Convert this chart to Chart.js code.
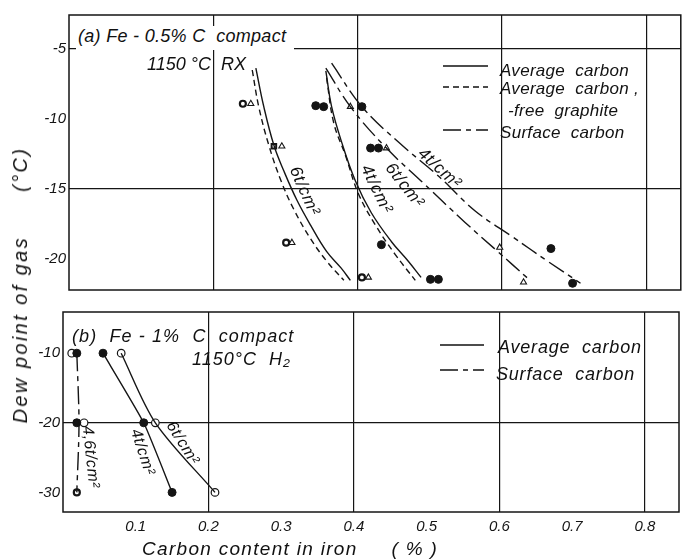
<!DOCTYPE html>
<html><head><meta charset="utf-8">
<script src="https://cdn.jsdelivr.net/npm/chart.js@4"></script>
<style>
html,body{margin:0;padding:0;background:#fff;}
#wrap{position:relative;width:686px;height:559px;overflow:hidden;font-family:"Liberation Sans",Arial,sans-serif;font-style:italic;color:#111;}
canvas{position:absolute;left:0;}
.t{position:absolute;white-space:pre;line-height:1;}
.r{position:absolute;white-space:pre;line-height:1;transform-origin:50% 50%;}
svg{position:absolute;overflow:visible;}
</style></head><body>
<div id="wrap">
<canvas id="cA" width="686" height="302" style="top:0"></canvas>
<canvas id="cB" width="686" height="259" style="top:300px"></canvas>

<div class="t" style="left:76px;top:26px;font-size:18px;letter-spacing:0.3px;background:#fff;padding:1px 8px 5px 2px;">(a) Fe - 0.5% C  compact</div>
<div class="t" style="left:147px;top:55px;font-size:18px;">1150 °C  RX</div>
<div class="t" style="left:72px;top:327px;font-size:18px;letter-spacing:1.1px;">(b)  Fe - 1%  C  compact</div>
<div class="t" style="left:192px;top:350px;font-size:18px;letter-spacing:1px;">1150°C  H₂</div>

<svg width="60" height="80" style="left:443px;top:60px">
<line x1="0" y1="6" x2="45" y2="6" stroke="#111" stroke-width="1.4"/>
<line x1="0" y1="27" x2="45" y2="27" stroke="#111" stroke-width="1.4" stroke-dasharray="6,4"/>
<line x1="0" y1="70" x2="45" y2="70" stroke="#111" stroke-width="1.4" stroke-dasharray="18,5,5,5"/>
</svg>
<div class="t" style="left:500px;top:62px;font-size:17px;letter-spacing:0.3px;">Average  carbon</div>
<div class="t" style="left:500px;top:80px;font-size:17px;letter-spacing:0.3px;">Average  carbon ,</div>
<div class="t" style="left:508px;top:102px;font-size:17px;letter-spacing:0.3px;">-free  graphite</div>
<div class="t" style="left:500px;top:124px;font-size:17px;letter-spacing:0.3px;">Surface  carbon</div>

<svg width="60" height="40" style="left:440px;top:340px">
<line x1="0" y1="5" x2="44" y2="5" stroke="#111" stroke-width="1.4"/>
<line x1="0" y1="30" x2="44" y2="30" stroke="#111" stroke-width="1.4" stroke-dasharray="18,5,5,5"/>
</svg>
<div class="t" style="left:498px;top:338px;font-size:18px;letter-spacing:0.8px;">Average  carbon</div>
<div class="t" style="left:496px;top:365px;font-size:18px;letter-spacing:0.8px;">Surface  carbon</div>

<div class="r" style="left:305px;top:191px;font-size:17px;letter-spacing:0.8px;transform:translate(-50%,-50%) rotate(66deg);">6t/cm²</div>
<div class="r" style="left:377px;top:189px;font-size:17px;letter-spacing:0.8px;transform:translate(-50%,-50%) rotate(64deg);">4t/cm²</div>
<div class="r" style="left:405px;top:185px;font-size:17px;letter-spacing:0.8px;transform:translate(-50%,-50%) rotate(52deg);">6t/cm²</div>
<div class="r" style="left:440px;top:168px;font-size:17px;letter-spacing:0.8px;transform:translate(-50%,-50%) rotate(42deg);">4t/cm²</div>

<div class="r" style="left:91px;top:457px;font-size:16px;letter-spacing:0.6px;transform:translate(-50%,-50%) rotate(84deg);">4,6t/cm²</div>
<div class="r" style="left:143px;top:452px;font-size:16px;letter-spacing:0.6px;transform:translate(-50%,-50%) rotate(72deg);">4t/cm²</div>
<div class="r" style="left:183px;top:443px;font-size:16px;letter-spacing:0.6px;transform:translate(-50%,-50%) rotate(58deg);">6t/cm²</div>

<div class="r" style="left:20px;top:285px;font-size:20px;letter-spacing:2.4px;transform:translate(-50%,-50%) rotate(-90deg);">Dew point of gas<span style="margin-left:44px">(°C)</span></div>
<div class="t" style="left:142px;top:539px;font-size:19px;letter-spacing:1.3px;">Carbon content in iron<span style="margin-left:34px">( % )</span></div>
</div>

<script>
// ---- axis ticks ----
const xTicks = [0.1, 0.2, 0.3, 0.4, 0.5, 0.6, 0.7, 0.8];
const xTickLabels = ['0.1', '0.2', '0.3', '0.4', '0.5', '0.6', '0.7', '0.8'];
const xGridAt = [0.2, 0.4, 0.6, 0.8];
const yTicksA = [-5, -10, -15, -20];
const yGridA = [-5, -15];
const yTicksB = [-10, -20, -30];
const yGridB = [-20];

// ---- panel (a): Fe-0.5%C compact, 1150 C RX ----
const aAvg6  = [[0.259,-6.38],[0.270,-9.14],[0.284,-11.90],[0.298,-13.76],[0.316,-15.83],[0.335,-17.62],[0.357,-19.48],[0.377,-20.66],[0.390,-21.55]];
const aFree6 = [[0.254,-6.52],[0.263,-9.14],[0.277,-11.90],[0.294,-14.45],[0.312,-16.52],[0.335,-18.59],[0.357,-20.17],[0.381,-21.55]];
const aAvg4  = [[0.356,-6.59],[0.364,-9.14],[0.378,-11.69],[0.397,-14.45],[0.419,-16.72],[0.447,-18.79],[0.470,-20.17],[0.488,-21.34]];
const aFree4 = [[0.357,-7.07],[0.367,-10.31],[0.383,-12.59],[0.401,-15.34],[0.425,-17.62],[0.452,-19.69],[0.480,-21.55]];
const aSurf6 = [[0.356,-6.38],[0.390,-9.14],[0.440,-12.10],[0.488,-14.45],[0.549,-17.41],[0.594,-19.48],[0.636,-21.41]];
const aSurf4 = [[0.364,-6.03],[0.406,-9.14],[0.457,-11.69],[0.512,-14.10],[0.563,-16.59],[0.615,-18.45],[0.663,-20.17],[0.709,-21.76]];
const aFilled = [[0.342,-9.07],[0.353,-9.14],[0.406,-9.14],[0.418,-12.10],[0.429,-12.10],[0.433,-19.0],[0.501,-21.48],[0.512,-21.48],[0.668,-19.28],[0.698,-21.76]];
const aTri = [[0.252,-8.93],[0.295,-11.97],[0.309,-18.86],[0.415,-21.34],[0.390,-9.14],[0.440,-12.10],[0.597,-19.2],[0.630,-21.69]];
const aDot = [[0.241,-8.93],[0.301,-18.86],[0.406,-21.34]];
const aSq = [[0.284,-11.97]];

// ---- panel (b): Fe-1%C compact, 1150 C H2 ----
const bAvg4 = [[0.055,-10],[0.111,-20],[0.150,-30]];
const bAvg6 = [[0.080,-10],[0.127,-20],[0.209,-30]];
const bSurf = [[0.019,-10],[0.022,-20],[0.019,-30]];
const bFilled = [[0.019,-10],[0.019,-20],[0.055,-10],[0.111,-20],[0.150,-30]];
const bOpen = [[0.012,-10],[0.029,-20],[0.080,-10],[0.127,-20],[0.209,-30]];
const bDot = [[0.019,-30]];

const INK = '#151515';
const pts = a => a.map(([x, y]) => ({x, y}));
const near = (v, list) => list.some(g => Math.abs(g - v) < 1e-6);
const tickFont = {family: '"Liberation Sans", Arial, sans-serif', style: 'italic', size: 15};

function curve(data, dash, tension) {
  return {data: pts(data), showLine: true, borderColor: INK, borderWidth: 1.4, borderDash: dash || [],
          pointRadius: 0, tension: tension === undefined ? 0.4 : tension, fill: false};
}
function marks(data, style, radius, fillColor, bw) {
  return {data: pts(data), showLine: false, pointStyle: style, pointRadius: radius, pointHoverRadius: radius,
          pointBackgroundColor: fillColor, pointBorderColor: INK, pointBorderWidth: bw};
}
const frame = {
  id: 'frame',
  afterDatasetsDraw(chart) {
    const {ctx, chartArea: c} = chart;
    ctx.save(); ctx.strokeStyle = INK; ctx.lineWidth = 1.5;
    ctx.strokeRect(c.left, c.top, c.right - c.left, c.bottom - c.top);
    ctx.restore();
  }
};
function makeChart(id, datasets, o) {
  return new Chart(document.getElementById(id), {
    type: 'scatter',
    data: {datasets},
    plugins: [frame],
    options: {
      responsive: false, animation: false, events: [],
      layout: {padding: o.pad},
      plugins: {legend: {display: false}, tooltip: {enabled: false}},
      scales: {
        x: {type: 'linear', min: o.xmin, max: o.xmax,
            afterBuildTicks: s => { s.ticks = xTicks.map(v => ({value: v})); },
            afterFit: s => { s.height = o.xh; },
            border: {display: false},
            grid: {drawTicks: false, lineWidth: 1.2,
                   color: c => (c.tick && near(c.tick.value, xGridAt)) ? INK : 'rgba(0,0,0,0)'},
            ticks: {display: o.showX, color: INK, font: tickFont, padding: 6, maxRotation: 0,
                    callback: (v, i) => xTickLabels[i]}},
        y: {type: 'linear', min: o.ymin, max: o.ymax,
            afterBuildTicks: s => { s.ticks = o.yTicks.map(v => ({value: v})); },
            afterFit: s => { s.width = o.yw; },
            border: {display: false},
            grid: {drawTicks: false, lineWidth: 1.2,
                   color: c => (c.tick && near(c.tick.value, o.yGrid)) ? INK : 'rgba(0,0,0,0)'},
            ticks: {color: INK, font: tickFont, padding: 3, callback: v => String(v)}}
      }
    }
  });
}

makeChart('cA', [
  curve(aAvg6), curve(aFree6, [6, 4]),
  curve(aAvg4), curve(aFree4, [6, 4]),
  curve(aSurf6, [18, 5, 5, 5]), curve(aSurf4, [18, 5, 5, 5]),
  marks(aFilled, 'circle', 4, INK, 1),
  marks(aTri, 'triangle', 3.5, '#fff', 1.1),
  marks(aDot, 'circle', 3, '#fff', 2.2),
  marks(aSq, 'rect', 3.2, '#fff', 2)
], {pad: {top: 15, right: 2, left: 0, bottom: 0}, xmin: 0, xmax: 0.848, ymin: -22.24, ymax: -2.59,
    xh: 2, yw: 69, showX: false, yTicks: yTicksA, yGrid: yGridA});

makeChart('cB', [
  curve(bAvg4, [], 0.15), curve(bAvg6, [], 0.3), curve(bSurf, [18, 5, 5, 5], 0.3),
  marks(bFilled, 'circle', 4, INK, 1),
  marks(bOpen, 'circle', 3.8, '#fff', 1.2),
  marks(bDot, 'circle', 3, '#fff', 2.2)
], {pad: {top: 8, right: 7, left: 0, bottom: 0}, xmin: 0, xmax: 0.847, ymin: -32.82, ymax: -4.08,
    xh: 47, yw: 63, showX: true, yTicks: yTicksB, yGrid: yGridB});
</script>
</body></html>
